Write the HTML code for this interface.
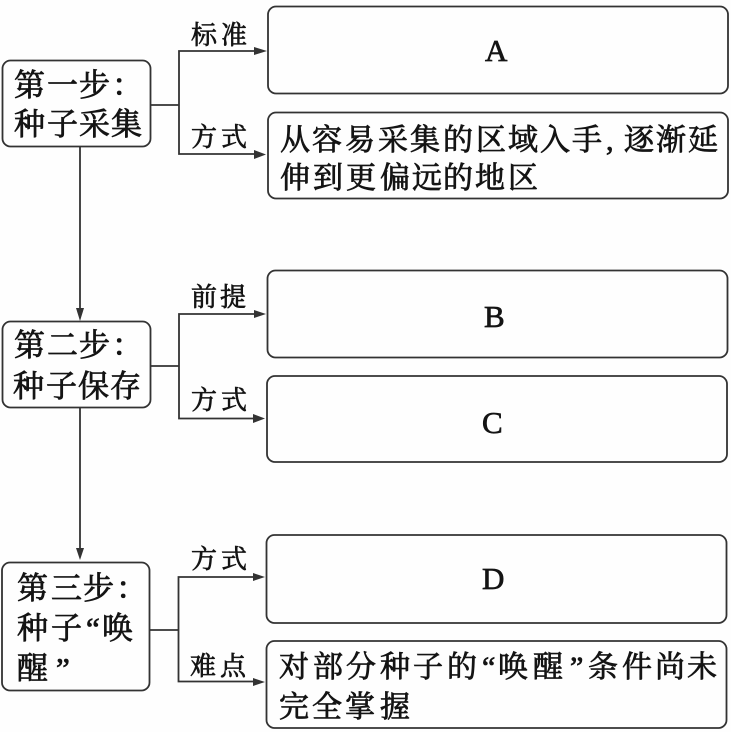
<!DOCTYPE html>
<html lang="zh-CN">
<head>
<meta charset="utf-8">
<style>
html,body{margin:0;padding:0;background:#fefefe;width:731px;height:732px;overflow:hidden}
svg{display:block}
text{font-family:"Noto Serif CJK SC","Liberation Serif",serif;fill:#141414}
.m{font-size:31px;stroke:#141414;stroke-width:.8px}
.b{font-size:30px;stroke:#141414;stroke-width:.8px}
.l{font-size:26px;stroke:#141414;stroke-width:.7px}
.a{font-size:31px;font-family:"Liberation Serif",serif;stroke:#141414;stroke-width:.7px}
.q{font-family:"Liberation Serif",serif}
rect{fill:none;stroke:#333;stroke-width:1.8}
path.c{fill:none;stroke:#333;stroke-width:1.8}
path.h{fill:#333;stroke:none}
</style>
</head>
<body>
<svg width="731" height="732" viewBox="0 0 731 732" xmlns="http://www.w3.org/2000/svg">
<rect x="2.5" y="60.5" width="148" height="86" rx="8"/>
<rect x="2.5" y="321.5" width="148" height="86" rx="8"/>
<rect x="2" y="562.5" width="147.500" height="128" rx="8"/>
<rect x="268" y="6.5" width="460" height="87" rx="8"/>
<rect x="268" y="112.5" width="460" height="86" rx="8"/>
<rect x="267.5" y="270.5" width="460" height="87" rx="8"/>
<rect x="267" y="376" width="460" height="86" rx="8"/>
<rect x="266.5" y="535" width="460" height="88" rx="8"/>
<rect x="266.5" y="641" width="460" height="87" rx="8"/>

<path class="c" d="M151 105H179M256 51H179V154H256"/>
<path class="h" d="M267 51L254 47V55Z"/>
<path class="h" d="M266 154.5L254 150V159Z"/>
<path class="c" d="M80 146V310"/>
<path class="h" d="M80 321L76 308H84Z"/>

<path class="c" d="M151 366H179M254 314H179V418.5H254"/>
<path class="h" d="M266 314L254 310V318Z"/>
<path class="h" d="M265 418.5L253 414V423Z"/>
<path class="c" d="M80 407V550"/>
<path class="h" d="M80 560L76 548H84Z"/>

<path class="c" d="M150 630H178.5M254 577H178.5V681.5H254"/>
<path class="h" d="M265 577L253 573V581Z"/>
<path class="h" d="M265 682L253 678V686Z"/>

<text class="m" x="14 47 79 112" y="96">第一步：</text>
<text class="m" x="14 47 79 111" y="135">种子采集</text>
<text class="m" x="14 47 79 112" y="356">第二步：</text>
<text class="m" x="13 46 78 110" y="397">种子保存</text>
<text class="m" x="17 51 83 116" y="599">第三步：</text>
<text class="m" x="17 51" y="639">种子</text>
<text class="m q" x="86" y="639">“</text>
<text class="m" x="102" y="639">唤</text>
<text class="m" x="17" y="679">醒</text>
<text class="m q" x="56" y="679">”</text>

<text class="l" x="191 221" y="44">标准</text>
<text class="l" x="191 221" y="146">方式</text>
<text class="l" x="191 220" y="306">前提</text>
<text class="l" x="191 221" y="409">方式</text>
<text class="l" x="191 221" y="568">方式</text>
<text class="l" x="190 220" y="675">难点</text>

<text class="b" x="280 312 345 378 410 443 476 508 540 572" y="150">从容易采集的区域入手</text>
<text class="b q" x="606" y="150">,</text>
<text class="b" x="624 656 688" y="150">逐渐延</text>
<text class="b" x="280 313 346 380 412 443 475 508" y="188">伸到更偏远的地区</text>
<text class="b" x="279 313 346 380 413 447" y="677">对部分种子的</text>
<text class="b q" x="482" y="677">“</text>
<text class="b" x="498 533" y="677">唤醒</text>
<text class="b q" x="570" y="677">”</text>
<text class="b" x="588 622 655 687" y="677">条件尚未</text>
<text class="b" x="279 312 345 380" y="717">完全掌握</text>

<text class="a" x="485" y="61">A</text>
<text class="a" x="484" y="327">B</text>
<text class="a" x="482" y="433">C</text>
<text class="a" x="482" y="589">D</text>
</svg>
</body>
</html>
